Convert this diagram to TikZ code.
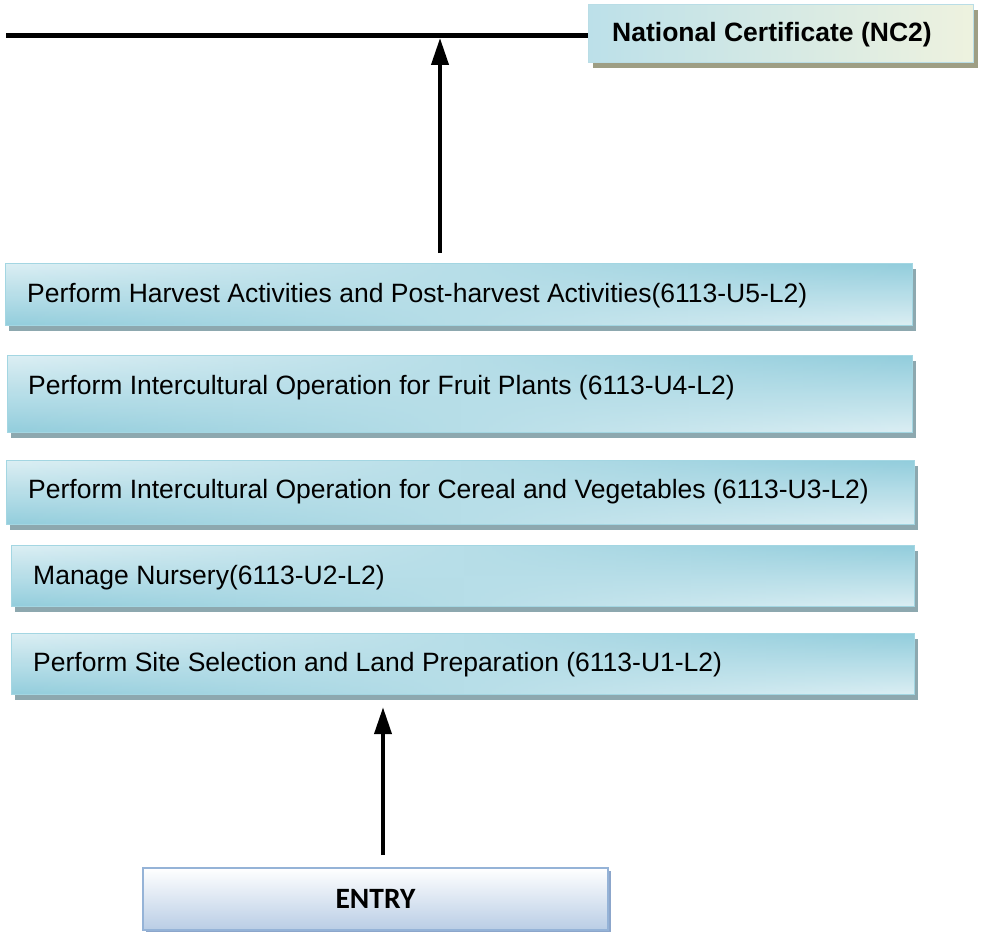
\documentclass[tikz,border=0pt]{standalone}
\usepackage{fontspec}
\setmainfont{Liberation Sans}
\newfontfamily\carlito{Carlito}
\usetikzlibrary{arrows.meta,calc,shadows,fadings}
\definecolor{tealD}{HTML}{92CDDC}
\definecolor{tealL}{HTML}{DCEFF4}
\definecolor{bordc}{HTML}{A3D6E2}
\definecolor{shadc}{HTML}{8DA8AF}
\definecolor{ncblue}{HTML}{BCE0E9}
\definecolor{nccream}{HTML}{EEF2DF}
\definecolor{ncbord}{HTML}{B9DDE6}
\definecolor{ncshad}{HTML}{9E9E84}
\definecolor{enbord}{HTML}{95B3D7}
\definecolor{enbot}{HTML}{B9CDE5}
\definecolor{enshad}{HTML}{8CA6CB}
\tikzfading[name=fadeR, left color=transparent!100, right color=transparent!0]
\begin{document}
\begin{tikzpicture}[x=1pt,y=-1pt,
  ubox/.style={line width=1.2pt, top color=tealL, bottom color=tealD,
    general shadow={fill=shadc, shadow xshift=3.5pt, shadow yshift=-5pt},
    postaction={top color=tealD, bottom color=tealL, path fading=fadeR},
    postaction={draw=bordc, line width=1.2pt},
    anchor=north west, inner sep=0pt},
  utext/.style={anchor=base west, inner sep=0pt, font=\fontsize{26.5}{30}\selectfont},
  arr/.style={line width=4pt, -{Triangle[length=27pt,width=17pt]}},
]
\useasboundingbox (0,0) rectangle (981,931);

% National certificate box
\node[draw=ncbord, line width=1.2pt, left color=ncblue, right color=nccream,
  general shadow={fill=ncshad, shadow xshift=4pt, shadow yshift=-5pt},
  anchor=north west, inner sep=0pt, minimum width=385pt, minimum height=58pt] (nc) at (588,4) {};
\node[utext, font=\fontsize{26.5}{30}\selectfont\bfseries] (nct) at (612,42) {National Certificate (NC2)};

% top line
\coordinate (ll) at (6,35.5);
\draw[line width=5pt] (ll) -- (ll -| nc.west);

% unit boxes
\node[ubox, minimum width=907pt, minimum height=62pt] (u5) at (5,263) {};
\node[utext] (u5t) at (27,302) {Perform Harvest Activities and Post-harvest Activities(6113-U5-L2)};

\node[ubox, minimum width=905pt, minimum height=77pt] (u4) at (7,355) {};
\node[utext] (u4t) at (28,394) {Perform Intercultural Operation for Fruit Plants (6113-U4-L2)};

\node[ubox, minimum width=908pt, minimum height=64pt] (u3) at (6,460) {};
\node[utext] (u3t) at (28,498) {Perform Intercultural Operation for Cereal and Vegetables (6113-U3-L2)};

\node[ubox, minimum width=903pt, minimum height=61pt] (u2) at (11,545) {};
\node[utext] (u2t) at (33,584) {Manage Nursery(6113-U2-L2)};

\node[ubox, minimum width=903pt, minimum height=61pt] (u1) at (11,633) {};
\node[utext] (u1t) at (33,671) {Perform Site Selection and Land Preparation (6113-U1-L2)};

% entry box
\node[draw=enbord, line width=2pt, top color=white, bottom color=enbot,
  general shadow={fill=enshad, shadow xshift=3pt, shadow yshift=-3pt},
  anchor=north west, inner sep=0pt, minimum width=465pt, minimum height=62pt,
  font=\carlito\fontsize{29.5}{32}\selectfont\bfseries] (entry) at (142,867) {ENTRY};

% arrows
\coordinate (tp) at (440,38);
\draw[arr, shorten <=10pt] (u5.north -| tp) -- (tp);
\coordinate (bx) at (383,0);
\draw[arr, shorten <=12pt, shorten >=12pt] (entry.north -| bx) -- (u1.south -| bx);
\end{tikzpicture}
\end{document}
